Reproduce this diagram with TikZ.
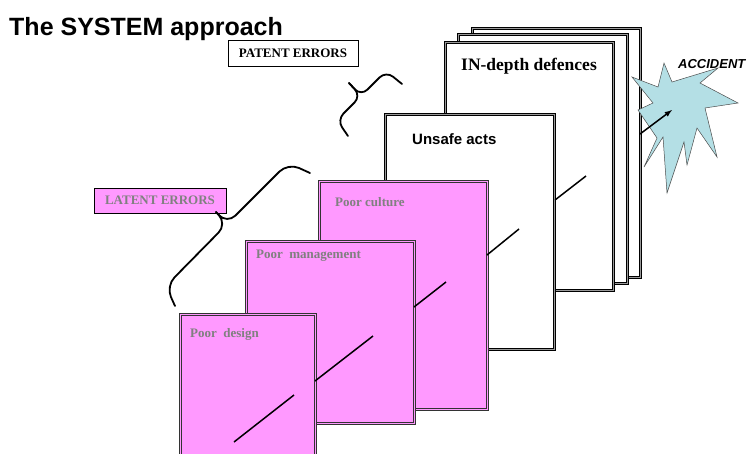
\documentclass[tikz,border=0pt]{standalone}
\usepackage{fontspec}
\setmainfont{Liberation Serif}
\setsansfont{Liberation Sans}
\definecolor{layerpink}{RGB}{255,153,255}
\definecolor{layergray}{RGB}{128,128,128}
\definecolor{flashblue}{RGB}{180,223,229}
\tikzstyle{layer} = [draw=black!80, line width=0.8pt, double=layerpink, double distance=0.8pt, fill=layerpink, anchor=north west, inner sep=0pt]
\tikzstyle{wall} = [draw=black, line width=1.1pt, double=black!40, double distance=0.9pt, fill=white, anchor=north west, inner sep=0pt]
\tikzstyle{layertext} = [font=\fontsize{13}{15}\selectfont\bfseries, text=layergray, inner sep=0pt, anchor=base west]
\tikzstyle{errorbox} = [draw=black, line width=1pt, font=\fontsize{13}{15}\selectfont\bfseries, minimum width=130pt, minimum height=26pt, inner sep=0pt]
\tikzstyle{curly} = [line width=1.8pt, line cap=round]
\tikzstyle{hole} = [line width=1.5pt]

\begin{document}
\begin{tikzpicture}[x=1pt, y=-1pt]
    \useasboundingbox (0,0) rectangle (747,453);

    \node [font=\sffamily\bfseries\fontsize{25}{30}\selectfont, inner sep=0pt, anchor=base west] (title) at (9,35) {The SYSTEM approach};

    \node [wall, minimum width=168pt, minimum height=249pt] (back) at (472,28) {};
    \node [wall, minimum width=169pt, minimum height=249pt] (middle) at (458,34) {};
    \node [wall, minimum width=168pt, minimum height=248pt] (front) at (445,42) {};

    \draw [fill=flashblue, draw=black!70, line width=0.5pt]
        (664,63) -- (672,82) -- (718,68) -- (700,83) -- (738,103) -- (705,108)
        -- (717,157) -- (697,128) -- (687,165) -- (684,142) -- (667,193) -- (663,137)
        -- (644,167) -- (657,138) -- (638,110) -- (653,103) -- (632,77) -- (658,87) -- cycle;

    \node [wall, minimum width=169pt, minimum height=235pt] (unsafe) at (385,114) {};
    \node [layer, minimum width=168pt, minimum height=228pt] (culture) at (319,181) {};
    \node [layer, minimum width=168pt, minimum height=182pt] (management) at (246,241) {};
    \node [layer, minimum width=135pt, minimum height=160pt] (design) at (180,314) {};

    \node [font=\fontsize{17.5}{20}\selectfont\bfseries, inner sep=0pt, anchor=base west] (defencetext) at (461,70) {IN-depth defences};
    \node [font=\sffamily\bfseries\fontsize{15}{18}\selectfont, inner sep=0pt, anchor=base west] (unsafetext) at (412,144) {Unsafe acts};
    \node [layertext] (culturetext) at (335,206) {Poor culture};
    \node [layertext] (managementtext) at (256,258) {Poor~~management};
    \node [layertext] (designtext) at (190,337) {Poor~~design};
    \node [font=\sffamily\bfseries\itshape\fontsize{13}{15}\selectfont, inner sep=0pt, anchor=base west] (accident) at (678,68) {ACCIDENT};

    \draw [hole] (234,442) -- (294,395);
    \draw [hole] (315,381) -- (373,336);
    \draw [hole] (414,307) -- (446,282);
    \draw [hole] (487,255) -- (519,229);
    \draw [hole] (555,200) -- (586,176);
    \coordinate (leak) at (640,134);
    \coordinate (hit) at (672,110);
    \draw [hole, -latex] (leak) -- (hit);

    \node [errorbox, fill=white] (patent) at (293,53.5) {PATENT ERRORS};
    \node [errorbox, fill=layerpink, text=layergray, minimum width=132pt, minimum height=25pt] (latent) at (160,200.5) {LATENT ERRORS};

    \coordinate (patenthigh) at (402,84);
    \coordinate (patentlow) at (348,136);
    \coordinate (patenttip) at (349,83);
    \draw [curly, rounded corners=9pt] (patenthigh) -- (386,71) -- (361,96) -- (patenttip);
    \draw [curly, rounded corners=9pt] (patenttip) -- (361,96) -- (337,120) -- (patentlow);

    \coordinate (latenthigh) at (310,173);
    \coordinate (latentlow) at (175,306);
    \coordinate (latenttip) at (216,212);
    \draw [curly, rounded corners=12pt] (latenthigh) -- (288,163) -- (227,224) -- (latenttip);
    \draw [curly, rounded corners=12pt] (latenttip) -- (227,224) -- (166,286) -- (latentlow);
\end{tikzpicture}
\end{document}
